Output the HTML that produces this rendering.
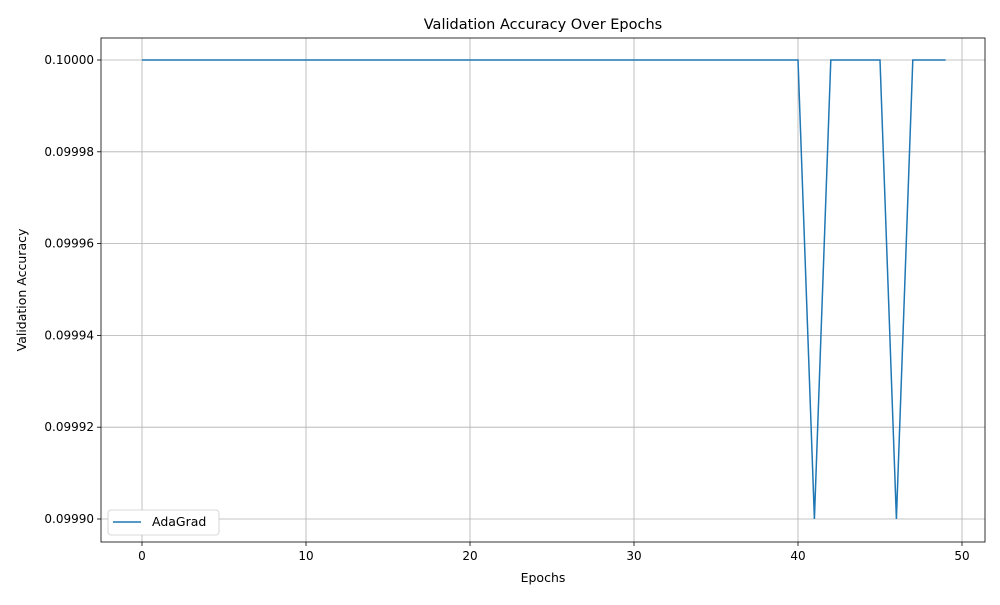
<!DOCTYPE html>
<html><head><meta charset="utf-8"><style>
body{margin:0;background:#fff;font-family:"Liberation Sans","DejaVu Sans",sans-serif;}
</style></head><body>
<svg id="chart" width="1000" height="600" xmlns="http://www.w3.org/2000/svg" font-family="DejaVu Sans, Liberation Sans, sans-serif"></svg>
<script>
const epochs = Array.from({length:50},(_,i)=>i);
const accuracy = [0.1,0.1,0.1,0.1,0.1,0.1,0.1,0.1,0.1,0.1,
0.1,0.1,0.1,0.1,0.1,0.1,0.1,0.1,0.1,0.1,
0.1,0.1,0.1,0.1,0.1,0.1,0.1,0.1,0.1,0.1,
0.1,0.1,0.1,0.1,0.1,0.1,0.1,0.1,0.1,0.1,
0.1,0.0999,0.1,0.1,0.1,0.1,0.0999,0.1,0.1,0.1];
const xTicks = [0,10,20,30,40,50];
const yTicks = [0.0999,0.09992,0.09994,0.09996,0.09998,0.1];
const yTickLabels = ["0.09990","0.09992","0.09994","0.09996","0.09998","0.10000"];

const L=101,R=985,T=38,B=542;
const xs=v=>142+(v-0)*(962-142)/50;
const ys=v=>519+(v-0.0999)*(60-519)/0.0001;
const svg=document.getElementById('chart');
const NS='http://www.w3.org/2000/svg';
function mk(tag,attrs,parent){const e=document.createElementNS(NS,tag);for(const k in attrs)e.setAttribute(k,attrs[k]);(parent||svg).appendChild(e);return e;}

xTicks.forEach(t=>{
  const g=mk('line',{x1:xs(t),x2:xs(t),y1:T,y2:B,stroke:'#b0b0b0','stroke-width':0.8});
  
  
  mk('line',{x1:xs(t),x2:xs(t),y1:B,y2:B+4,stroke:'#000','stroke-width':0.8});
  const tx=mk('text',{x:xs(t),y:B+18,'text-anchor':'middle','font-size':12});
  tx.textContent=t;
  
  
});
yTicks.forEach((t,i)=>{
  const g=mk('line',{x1:L,x2:R,y1:ys(t),y2:ys(t),stroke:'#b0b0b0','stroke-width':0.8});
  
  
  mk('line',{x1:L-4,x2:L,y1:ys(t),y2:ys(t),stroke:'#000','stroke-width':0.8});
  const tx=mk('text',{x:L-7,y:ys(t)+4,'text-anchor':'end','font-size':12});
  tx.textContent=yTickLabels[i];
  
  
});
const pts=epochs.map((e,i)=>xs(e)+','+ys(accuracy[i])).join(' ');
const line=mk('polyline',{points:pts,fill:'none',stroke:'#1f77b4','stroke-width':1.5});


const frame=mk('rect',{x:L,y:T,width:R-L,height:B-T,fill:'none',stroke:'#000','stroke-width':0.8});


const title=mk('text',{x:(L+R)/2,y:29,'text-anchor':'middle','font-size':14.5});
title.textContent='Validation Accuracy Over Epochs';


const xl=mk('text',{x:(L+R)/2,y:582,'text-anchor':'middle','font-size':12.5});
xl.textContent='Epochs';


const yl=mk('text',{x:0,y:0,'text-anchor':'middle','font-size':12.5,transform:'translate(26,290) rotate(-90)'});
yl.textContent='Validation Accuracy';


const lg=mk('g',{});


mk('rect',{x:108,y:510,width:111,height:25,rx:3,fill:'#fff',stroke:'#ccc','stroke-width':0.8},lg);
mk('line',{x1:113,x2:141,y1:522,y2:522,stroke:'#1f77b4','stroke-width':1.5},lg);
const lt=mk('text',{x:152,y:526,'font-size':12.5},lg);
lt.textContent='AdaGrad';


</script>
</body></html>
